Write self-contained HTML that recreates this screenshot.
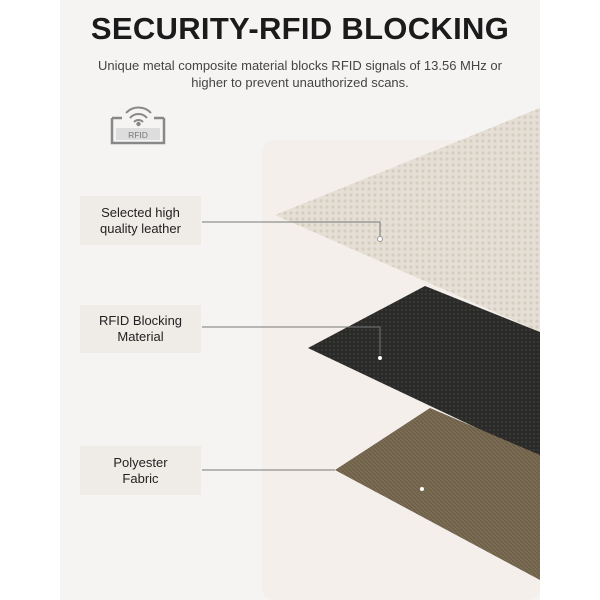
<!DOCTYPE html>
<html><head><style>
body{margin:0;width:600px;height:600px;background:#fff;font-family:"Liberation Sans",sans-serif;position:relative;overflow:hidden}
.bg{position:absolute;left:60px;top:0;width:480px;height:600px;background:#f5f4f3}
.t{position:absolute;top:11px;left:0;width:600px;text-align:center;font-weight:bold;font-size:31px;color:#1b1b1b;letter-spacing:0.3px}
.s{position:absolute;top:57px;left:0;width:600px;text-align:center;font-size:13px;line-height:17px;color:#444}
.lb{position:absolute;left:80px;width:121px;background:#efebe7;text-align:center;font-size:13px;line-height:16px;color:#222;display:flex;align-items:center;justify-content:center}
</style></head><body>
<div class="bg"></div>
<svg style="position:absolute;left:0;top:0" width="600" height="600">
<defs>
<pattern id="pb" width="6" height="6" patternUnits="userSpaceOnUse"><rect width="6" height="6" fill="#e6dfd6"/><circle cx="3" cy="3" r="1.6" fill="#d6cdc1"/></pattern>
<pattern id="pk" width="4" height="4" patternUnits="userSpaceOnUse"><rect width="4" height="4" fill="#2a2a29"/><circle cx="2" cy="2" r="1" fill="#3c3c3a"/></pattern>
<pattern id="pn" width="4" height="4" patternUnits="userSpaceOnUse"><rect width="4" height="4" fill="#7a6b53"/><line x1="0" y1="0" x2="4" y2="4" stroke="#6a5c46" stroke-width="1"/></pattern>
</defs>
<rect x="262" y="140" width="278" height="460" rx="12" fill="#f4efea"/>
<polygon points="275,215 540,108 540,332" fill="url(#pb)"/>
<polygon points="308,348 425,286 540,332 540,458" fill="url(#pk)"/>
<polygon points="335,470 430,408 540,455 540,580" fill="url(#pn)"/>
<g stroke="#777" stroke-width="1" fill="none">
<polyline points="202,222 380,222 380,236"/>
<polyline points="202,327 380,327 380,355"/>
<line x1="202" y1="470" x2="335" y2="470"/>
</g>
<circle cx="380" cy="239" r="2.5" fill="#fff" stroke="#999"/>
<circle cx="380" cy="358" r="2" fill="#fff"/>
<circle cx="422" cy="489" r="2" fill="#fff"/>
<g stroke="#888" fill="none" stroke-width="2.5">
<path d="M112,118 v25 h52 v-25 M112,118 h10 M164,118 h-10"/>
<path d="M126,113 a17,17 0 0 1 25,0 M130,118 a11,11 0 0 1 17,0 M134,122 a6,6 0 0 1 9,0" stroke-width="2"/>
</g>
<circle cx="138.5" cy="124" r="2.2" fill="#888"/>
<rect x="116" y="128" width="44" height="12" fill="#ddd"/>
<text x="138" y="138" font-size="8.5" fill="#777" text-anchor="middle" font-family="Liberation Sans">RFID</text>
</svg>
<div class="t">SECURITY-RFID BLOCKING</div>
<div class="s">Unique metal composite material blocks RFID signals of 13.56 MHz or<br>higher to prevent unauthorized scans.</div>
<div class="lb" style="top:196px;height:49px">Selected high<br>quality leather</div>
<div class="lb" style="top:305px;height:48px">RFID Blocking<br>Material</div>
<div class="lb" style="top:446px;height:49px">Polyester<br>Fabric</div>
</body></html>
